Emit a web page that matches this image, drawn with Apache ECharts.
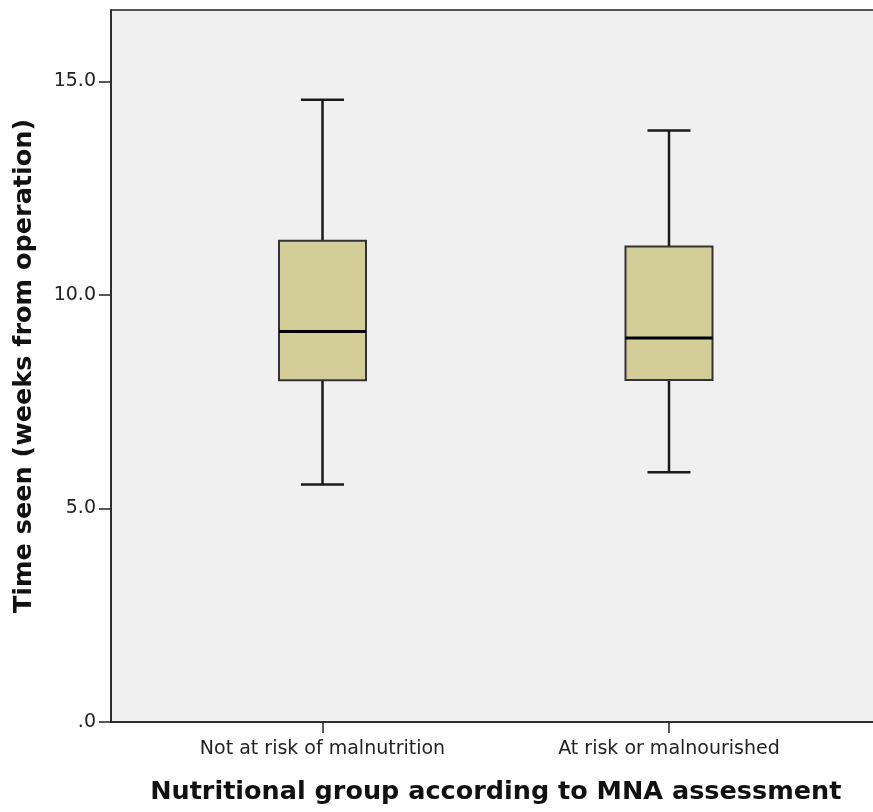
<!DOCTYPE html>
<html>
<head>
<meta charset="utf-8">
<script src="https://cdn.jsdelivr.net/npm/echarts@6/dist/echarts.min.js"></script>
<style>
html,body{margin:0;padding:0;background:#fff;}
#chart{width:873px;height:812px;}
</style>
</head>
<body>
<div id="chart"></div>
<script>
// ---- data ----
const categories = ['Not at risk of malnutrition', 'At risk or malnourished'];
const whiskerLow  = [5.56, 5.85];
const q1Values    = [8.00, 8.01];
const medians     = [9.14, 8.99];
const q3Values    = [11.27, 11.13];
const whiskerHigh = [14.57, 13.85];
const yTickValues = [0, 5, 10, 15];
const yTickLabels = ['.0', '5.0', '10.0', '15.0'];
const xTitle = 'Nutritional group according to MNA assessment';
const yTitle = 'Time seen (weeks from operation)';

// ---- styling / layout ----
const BOX_W = 87;
const CAP_W = 43;
const LINE = '#1a1a1a';
const FILL = '#D3CE98';

const seriesData = categories.map((c, i) => [i + 1, whiskerLow[i], q1Values[i], medians[i], q3Values[i], whiskerHigh[i]]);

const chart = echarts.init(document.getElementById('chart'));
chart.setOption({
  backgroundColor: '#ffffff',
  animation: false,
  grid: {
    left: 111, top: 10, width: 769.5, height: 712,
    show: true, backgroundColor: '#F0F0F0', borderColor: '#222', borderWidth: 1.5,
    containLabel: false, outerBoundsMode: 'none'
  },
  xAxis: {
    type: 'value',
    min: 0.3896, max: 2.6104,
    splitLine: { show: false },
    axisLine: { show: true, onZero: false, lineStyle: { color: '#222', width: 1.5 } },
    axisTick: { show: true, length: 11, customValues: categories.map((c, i) => i + 1), lineStyle: { color: '#222', width: 1.5 } },
    axisLabel: {
      customValues: categories.map((c, i) => i + 1),
      formatter: v => categories[Math.round(v) - 1] || '',
      fontFamily: 'DejaVu Sans', fontSize: 19, color: '#222', margin: 18
    },
    name: xTitle, nameLocation: 'middle', nameGap: 57,
    nameTextStyle: { fontFamily: 'DejaVu Sans', fontWeight: 'bold', fontSize: 25.5, color: '#111' }
  },
  yAxis: {
    type: 'value',
    min: 0, max: 16.67,
    splitLine: { show: false },
    axisLine: { show: true, onZero: false, lineStyle: { color: '#222', width: 1.5 } },
    axisTick: { show: true, length: 12, customValues: yTickValues, lineStyle: { color: '#222', width: 1.5 } },
    axisLabel: {
      customValues: yTickValues,
      formatter: v => yTickLabels[yTickValues.indexOf(v)] ?? '',
      fontFamily: 'DejaVu Sans', fontSize: 19, color: '#222', margin: 15
    },
    name: yTitle, nameLocation: 'middle', nameGap: 74, nameRotate: 90,
    nameTextStyle: { fontFamily: 'DejaVu Sans', fontWeight: 'bold', fontSize: 25.5, color: '#111' }
  },
  series: [{
    type: 'custom',
    data: seriesData,
    encode: { x: 0, y: [1, 2, 3, 4, 5] },
    renderItem: function (params, api) {
      const x = api.value(0);
      const pMin = api.coord([x, api.value(1)]);
      const pQ1 = api.coord([x, api.value(2)]);
      const pMed = api.coord([x, api.value(3)]);
      const pQ3 = api.coord([x, api.value(4)]);
      const pMax = api.coord([x, api.value(5)]);
      const cx = pMed[0];
      const hb = BOX_W / 2, hc = CAP_W / 2;
      const ls = { stroke: LINE, lineWidth: 2.5 };
      return {
        type: 'group',
        children: [
          { type: 'line', shape: { x1: cx, y1: pQ3[1], x2: cx, y2: pMax[1] }, style: ls },
          { type: 'line', shape: { x1: cx, y1: pQ1[1], x2: cx, y2: pMin[1] }, style: ls },
          { type: 'line', shape: { x1: cx - hc, y1: pMax[1], x2: cx + hc, y2: pMax[1] }, style: ls },
          { type: 'line', shape: { x1: cx - hc, y1: pMin[1], x2: cx + hc, y2: pMin[1] }, style: ls },
          { type: 'rect', shape: { x: cx - hb, y: pQ3[1], width: BOX_W, height: pQ1[1] - pQ3[1] },
            style: { fill: FILL, stroke: '#333', lineWidth: 2 } },
          { type: 'line', shape: { x1: cx - hb, y1: pMed[1], x2: cx + hb, y2: pMed[1] }, style: { stroke: '#000', lineWidth: 3 } }
        ]
      };
    }
  }]
});
</script>
</body>
</html>
